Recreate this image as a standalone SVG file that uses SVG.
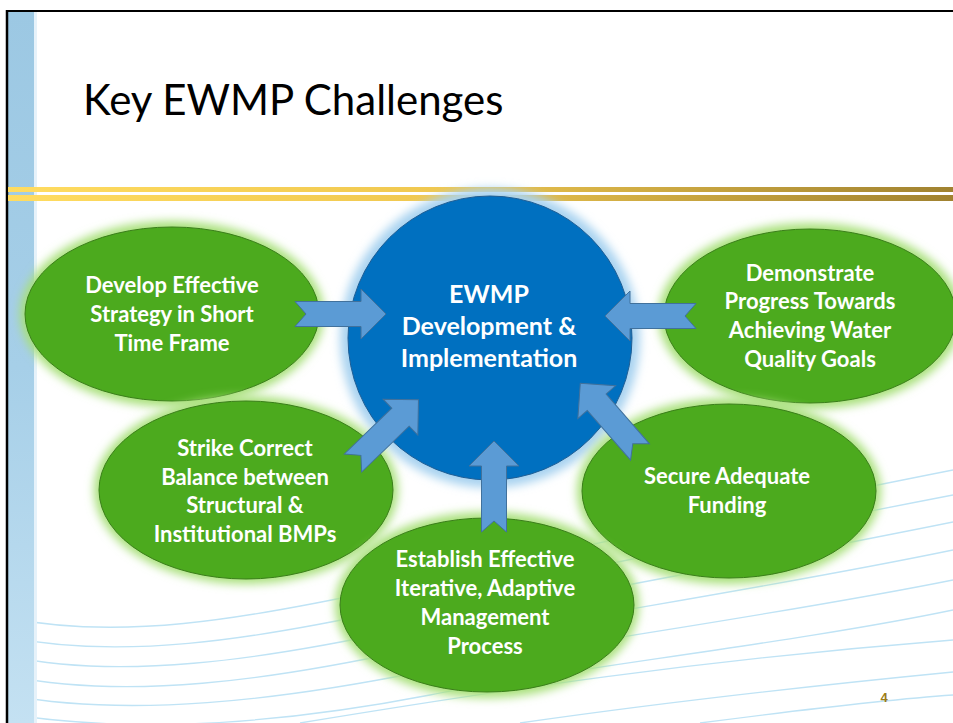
<svg xmlns="http://www.w3.org/2000/svg" width="953" height="723" viewBox="0 0 953 723">
<defs>
<style>
.lbl{font-family:Lato,"Liberation Sans",sans-serif;font-weight:bold;font-size:22px;fill:#fff;text-anchor:middle}
.ctr{font-size:25px}
.gn{fill:#4CAA1E;stroke:#3A7E1A;stroke-width:1}
.glowg{fill:#A8E07A;filter:url(#blur)}
.wave{fill:none;stroke:#BFE3F5;stroke-width:1.3}
.arr{fill:#5B9BD5;stroke:#41719C;stroke-width:1}
</style>
<linearGradient id="gold" x1="0" y1="0" x2="1" y2="0">
<stop offset="0" stop-color="#FFDC60"/>
<stop offset="0.45" stop-color="#F0C850"/>
<stop offset="1" stop-color="#A08230"/>
</linearGradient>
<linearGradient id="bar" x1="0" y1="0" x2="0" y2="1">
<stop offset="0" stop-color="#9CC8E3"/>
<stop offset="0.5" stop-color="#A6CFE8"/>
<stop offset="1" stop-color="#C4E1F2"/>
</linearGradient>
<filter id="blur" x="-20%" y="-20%" width="140%" height="140%"><feGaussianBlur stdDeviation="5"/></filter>
<path id="arrow" d="M0,-12.5 L66,-12.5 L66,-25 L91,0 L66,25 L66,12.5 L0,12.5 L11,0 Z"/>
</defs>
<rect x="0" y="0" width="953" height="723" fill="#fff"/>
<!-- background waves -->
<g id="waves">
<path class="wave" d="M8,618 C120,640 240,620 380,590 S700,520 953,470"/>
<path class="wave" d="M8,637 C120,660 250,640 390,610 S720,540 953,495"/>
<path class="wave" d="M8,656 C120,680 260,660 400,630 S740,565 953,522"/>
<path class="wave" d="M8,676 C130,700 270,680 410,650 S760,590 953,550"/>
<path class="wave" d="M8,695 C130,718 280,700 420,672 S780,615 953,580"/>
<path class="wave" d="M8,714 C140,735 290,722 430,695 S800,642 953,610"/>
<path class="wave" d="M300,723 C500,690 700,660 953,640"/>
<path class="wave" d="M520,723 C680,700 820,685 953,672"/>
<path class="wave" d="M700,723 C800,710 880,700 953,695"/>
</g>
<!-- slide frame -->
<rect x="8" y="12" width="26" height="711" fill="url(#bar)"/>
<rect x="34" y="12" width="3" height="711" fill="#E6F2FA"/>
<line x1="7" y1="11" x2="953" y2="11" stroke="#000" stroke-width="2"/>
<line x1="7" y1="10" x2="7" y2="723" stroke="#000" stroke-width="2.5"/>
<rect x="8" y="187" width="945" height="5" fill="url(#gold)"/>
<rect x="8" y="195" width="945" height="6" fill="url(#gold)"/>
<text x="83" y="115" font-family="Lato,'Liberation Sans',sans-serif" font-size="42" fill="#000">Key EWMP Challenges</text>
<!-- center node -->
<g id="center">
<circle cx="490" cy="338" r="150" fill="#A9D3F0" filter="url(#blur)"/>
<circle cx="490" cy="338" r="142" fill="#0070C0" stroke="#1F5E95" stroke-width="1"/>
<text class="lbl ctr" x="489" y="303">EWMP</text>
<text class="lbl ctr" x="489" y="335">Development &amp;</text>
<text class="lbl ctr" x="489" y="367">Implementation</text>
</g>
<g id="n1">
<ellipse class="glowg" cx="172" cy="314" rx="152" ry="93"/>
<ellipse class="gn" cx="172" cy="314" rx="147" ry="87"/>
<text class="lbl" x="172" y="293">Develop Effective</text>
<text class="lbl" x="172" y="322">Strategy in Short</text>
<text class="lbl" x="172" y="351">Time Frame</text>
</g>
<g id="n2">
<ellipse class="glowg" cx="810" cy="316" rx="152" ry="93"/>
<ellipse class="gn" cx="810" cy="316" rx="146" ry="87"/>
<text class="lbl" x="810" y="281">Demonstrate</text>
<text class="lbl" x="810" y="309">Progress Towards</text>
<text class="lbl" x="810" y="338">Achieving Water</text>
<text class="lbl" x="810" y="367">Quality Goals</text>
</g>
<g id="n3">
<ellipse class="glowg" cx="246" cy="490" rx="152" ry="94"/>
<ellipse class="gn" cx="246" cy="490" rx="147" ry="89"/>
<text class="lbl" x="245" y="456">Strike Correct</text>
<text class="lbl" x="245" y="485">Balance between</text>
<text class="lbl" x="245" y="513">Structural &amp;</text>
<text class="lbl" x="245" y="542">Institutional BMPs</text>
</g>
<g id="n4">
<ellipse class="glowg" cx="729" cy="491" rx="152" ry="93"/>
<ellipse class="gn" cx="729" cy="491" rx="147" ry="87"/>
<text class="lbl" x="727" y="484">Secure Adequate</text>
<text class="lbl" x="727" y="513">Funding</text>
</g>
<g id="n5">
<ellipse class="glowg" cx="487" cy="605" rx="152" ry="93"/>
<ellipse class="gn" cx="487" cy="605" rx="147" ry="87"/>
<text class="lbl" x="485" y="567">Establish Effective</text>
<text class="lbl" x="485" y="596">Iterative, Adaptive</text>
<text class="lbl" x="485" y="625">Management</text>
<text class="lbl" x="485" y="654">Process</text>
</g>
<!-- connectors -->
<g id="connectors">
<use href="#arrow" class="arr" transform="translate(295,314)"/>
<use href="#arrow" class="arr" transform="translate(696,316) rotate(180)"/>
<use href="#arrow" class="arr" transform="translate(494,532) rotate(-90)"/>
<use href="#arrow" class="arr" transform="translate(353,463) rotate(-44)"/>
<use href="#arrow" class="arr" transform="translate(640,452) rotate(-131)"/>
</g>
<text x="884" y="702" font-family="'Liberation Sans',sans-serif" font-weight="bold" font-size="13" fill="#9C7C1A" text-anchor="middle">4</text>
</svg>
